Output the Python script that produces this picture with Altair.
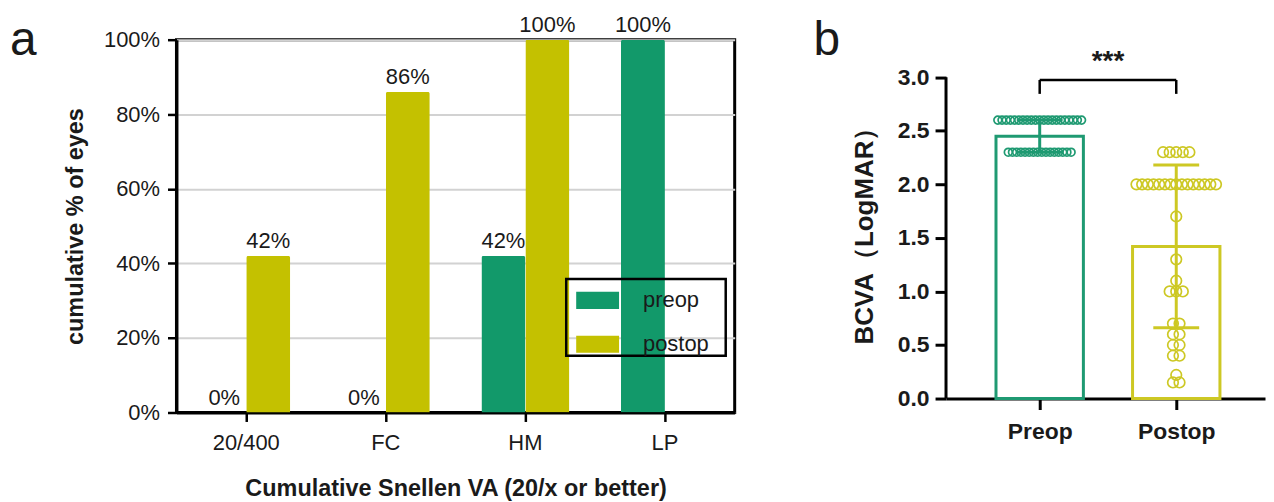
import altair as alt
import pandas as pd

# ---------------- data: panel a ----------------
categories = ["20/400", "FC", "HM", "LP"]
groups_a = ["preop", "postop"]
preop_pct = [0, 0, 42, 100]
postop_pct = [42, 86, 100, None]
y_ticks_a = [0, 20, 40, 60, 80, 100]

# ---------------- data: panel b ----------------
groups_b = ["Preop", "Postop"]
group_pos = [1, 2]
preop_levels = [2.6, 2.3]
preop_counts = [21, 16]
postop_levels = [2.3, 2.0, 1.7, 1.3, 1.1, 1.0, 0.7, 0.6, 0.5, 0.4, 0.22, 0.15]
postop_counts = [5, 15, 1, 1, 1, 3, 2, 2, 2, 2, 1, 2]
group_means = [2.45, 1.42]
group_sds = [0.15, 0.76]
y_ticks_b = [0, 0.5, 1.0, 1.5, 2.0, 2.5, 3.0]
sig_label = "***"

GREEN = "#12996a"
YELLOW = "#c4c100"
GREEN_B = "#1f9a72"
YELLOW_B = "#cdc824"
FONT = "Liberation Sans"
TXT = "#1a1a1a"
PAD_CHAR = "\u2800"

# ---------------- panel a ----------------
W_A, H_A = 560, 374
rows = []
for c, p0, p1 in zip(categories, preop_pct, postop_pct):
    for g, v in zip(groups_a, [p0, p1]):
        if v is not None:
            rows.append({"cat": c, "grp": g, "val": v, "lab": f"{v}%"})
df_a = pd.DataFrame(rows)

x_a = alt.X("cat:N", sort=categories,
            scale=alt.Scale(paddingInner=0.37, paddingOuter=0.185),
            axis=alt.Axis(title="Cumulative Snellen VA (20/x or better)", labelAngle=0,
                          labelFont=FONT, labelFontSize=22, labelColor=TXT, labelPadding=11,
                          titleFont=FONT, titleFontSize=23.5, titleFontWeight="bold", titleColor=TXT,
                          titlePadding=23, domainColor="black", domainWidth=3,
                          tickColor="black", tickWidth=2.5, tickSize=9))
xo_a = alt.XOffset("grp:N", sort=groups_a,
                   scale=alt.Scale(domain=groups_a, paddingInner=0, paddingOuter=0))
y_a = alt.Y("val:Q", scale=alt.Scale(domain=[0, 100], nice=False),
            axis=alt.Axis(values=y_ticks_a, labelExpr="datum.value + '%'",
                          title="cumulative % of eyes", grid=True, gridColor="#d2d2d2", gridWidth=2,
                          labelFont=FONT, labelFontSize=22, labelColor=TXT, labelPadding=8,
                          titleFont=FONT, titleFontSize=23.5, titleFontWeight="bold", titleColor=TXT,
                          titlePadding=16, domainColor="black", domainWidth=3,
                          tickColor="black", tickWidth=2.5, tickSize=9))
color_a = alt.Color("grp:N", scale=alt.Scale(domain=groups_a, range=[GREEN, YELLOW]),
                    legend=alt.Legend(title=None, orient="none", legendX=391, legendY=240,
                                      strokeColor="black", padding=0,
                                      symbolType="M-1,-0.4H1V0.4H-1Z", symbolSize=1849,
                                      symbolStrokeWidth=0, symbolOpacity=1, symbolOffset=10,
                                      labelFont=FONT, labelFontSize=22, labelColor=TXT,
                                      labelOffset=24, rowPadding=11,
                                      labelExpr="datum.label + '" + PAD_CHAR + "'"))

base_a = alt.Chart(df_a)
bars_a = base_a.mark_bar(cornerRadiusTopLeft=2, cornerRadiusTopRight=2).encode(
    x=x_a, xOffset=xo_a, y=y_a, color=color_a)
labels_a = base_a.mark_text(baseline="alphabetic", dy=-8, font=FONT, fontSize=22, color=TXT).encode(
    x=x_a, xOffset=xo_a, y=y_a, text="lab:N")
letter_a = alt.Chart(pd.DataFrame({"t": ["a"]})).mark_text(
    align="left", baseline="alphabetic", font=FONT, fontSize=48, color=TXT).encode(
    text="t:N", x=alt.value(-167), y=alt.value(15))

panel_a = alt.layer(bars_a, labels_a, letter_a).properties(
    width=W_A, height=H_A, view=alt.ViewBackground(stroke="black", strokeWidth=3))

# ---------------- panel b ----------------
W_B, H_B = 320, 360
x_dom = [0.314, 2.65]
y_top_b = 3.351
px_per_unit = W_B / (x_dom[1] - x_dom[0])

pts = []
for g, pos, levels, counts in [(groups_b[0], group_pos[0], preop_levels, preop_counts),
                               (groups_b[1], group_pos[1], postop_levels, postop_counts)]:
    for lv, k in zip(levels, counts):
        if g == "Preop":
            sp, sz = 4.2, 62
        else:
            sp, sz = (5.7 if k >= 10 else 6.6), 112
        for i in range(k):
            off = (i - (k - 1) / 2) * sp / px_per_unit
            pts.append({"gb": g, "x": pos + off, "y": lv, "sz": sz})
df_pts = pd.DataFrame(pts)

half_bar = 0.32
half_cap = 0.168
df_bar = pd.DataFrame({
    "gb": groups_b, "pos": group_pos, "mean": group_means,
    "x1": [p - half_bar for p in group_pos], "x2": [p + half_bar for p in group_pos],
    "c1": [p - half_cap for p in group_pos], "c2": [p + half_cap for p in group_pos],
    "lo": [m - s for m, s in zip(group_means, group_sds)],
    "hi": [m + s for m, s in zip(group_means, group_sds)],
})

col_b = alt.Scale(domain=groups_b, range=[GREEN_B, YELLOW_B])
x_b_axis = alt.Axis(values=group_pos, title=None,
                    labelExpr="datum.value == 1 ? 'Preop' : 'Postop'",
                    labelFont=FONT, labelFontSize=23, labelFontWeight="bold", labelColor=TXT,
                    labelPadding=11, domainColor="black", domainWidth=3,
                    tickColor="black", tickWidth=3, tickSize=11, grid=False)
x_b_scale = alt.Scale(domain=x_dom, nice=False, zero=False)
y_b_scale = alt.Scale(domain=[0, y_top_b], nice=False)
y_b_axis = alt.Axis(values=y_ticks_b, format=".1f", title="BCVA（LogMAR）", grid=False,
                    domain=False,
                    labelFont=FONT, labelFontSize=23, labelFontWeight="bold", labelColor=TXT,
                    labelPadding=6, titleFont=FONT, titleFontSize=26, titleFontWeight="bold",
                    titleColor=TXT, titlePadding=20, titleY=190,
                    tickColor="black", tickWidth=3, tickSize=11)

bar_b = alt.Chart(df_bar).mark_rect(fill="white", strokeWidth=3).encode(
    x=alt.X("x1:Q", scale=x_b_scale, axis=x_b_axis), x2="x2:Q",
    y=alt.Y("mean:Q", scale=y_b_scale, axis=y_b_axis), y2=alt.datum(0),
    stroke=alt.Stroke("gb:N", scale=col_b, legend=None))
yline_b = alt.Chart(pd.DataFrame({"a": [0.0], "b": [y_ticks_b[-1]]})).mark_rule(
    color="black", strokeWidth=3).encode(
    x=alt.value(0), y=alt.Y("a:Q", scale=y_b_scale), y2="b:Q")
whisk_b = alt.Chart(df_bar).mark_rule(strokeWidth=3).encode(
    x=alt.X("pos:Q", scale=x_b_scale), y=alt.Y("lo:Q", scale=y_b_scale), y2="hi:Q",
    color=alt.Color("gb:N", scale=col_b, legend=None))
cap_hi = alt.Chart(df_bar).mark_rule(strokeWidth=3).encode(
    x=alt.X("c1:Q", scale=x_b_scale), x2="c2:Q", y=alt.Y("hi:Q", scale=y_b_scale),
    color=alt.Color("gb:N", scale=col_b, legend=None))
cap_lo = alt.Chart(df_bar).mark_rule(strokeWidth=3).encode(
    x=alt.X("c1:Q", scale=x_b_scale), x2="c2:Q", y=alt.Y("lo:Q", scale=y_b_scale),
    color=alt.Color("gb:N", scale=col_b, legend=None))
pts_b = alt.Chart(df_pts).mark_point(shape="circle", filled=False, strokeWidth=1.7, opacity=1).encode(
    x=alt.X("x:Q", scale=x_b_scale), y=alt.Y("y:Q", scale=y_b_scale),
    color=alt.Color("gb:N", scale=col_b, legend=None),
    size=alt.Size("sz:Q", scale=None))

df_sig = pd.DataFrame({"x1": [group_pos[0]], "x2": [group_pos[1]], "xm": [1.5],
                       "ytop": [2.975], "ybot": [2.845], "ytxt": [3.07], "t": [sig_label]})
sig_h = alt.Chart(df_sig).mark_rule(color="black", strokeWidth=2.5).encode(
    x=alt.X("x1:Q", scale=x_b_scale), x2="x2:Q", y=alt.Y("ytop:Q", scale=y_b_scale))
sig_l = alt.Chart(df_sig).mark_rule(color="black", strokeWidth=2.5).encode(
    x=alt.X("x1:Q", scale=x_b_scale), y=alt.Y("ybot:Q", scale=y_b_scale), y2="ytop:Q")
sig_r = alt.Chart(df_sig).mark_rule(color="black", strokeWidth=2.5).encode(
    x=alt.X("x2:Q", scale=x_b_scale), y=alt.Y("ybot:Q", scale=y_b_scale), y2="ytop:Q")
sig_t = alt.Chart(df_sig).mark_text(baseline="alphabetic", font=FONT, fontSize=28,
                                    fontWeight="bold", color=TXT).encode(
    x=alt.X("xm:Q", scale=x_b_scale), y=alt.Y("ytxt:Q", scale=y_b_scale), text="t:N")
letter_b = alt.Chart(pd.DataFrame({"t": ["b"]})).mark_text(
    align="left", baseline="alphabetic", font=FONT, fontSize=48, color=TXT).encode(
    text="t:N", x=alt.value(-133), y=alt.value(15))

panel_b = alt.layer(bar_b, yline_b, whisk_b, cap_hi, cap_lo, pts_b,
                    sig_h, sig_l, sig_r, sig_t, letter_b).properties(width=W_B, height=H_B)

chart = alt.hconcat(panel_a, panel_b, spacing=76).resolve_scale(
    color="independent"
).properties(
    padding={"left": 0, "top": 3, "right": 0, "bottom": 0}
).configure_view(stroke="transparent").configure_legend(strokeWidth=2.5)

chart.save("out.html", embed_options={"renderer": "svg", "actions": False})
